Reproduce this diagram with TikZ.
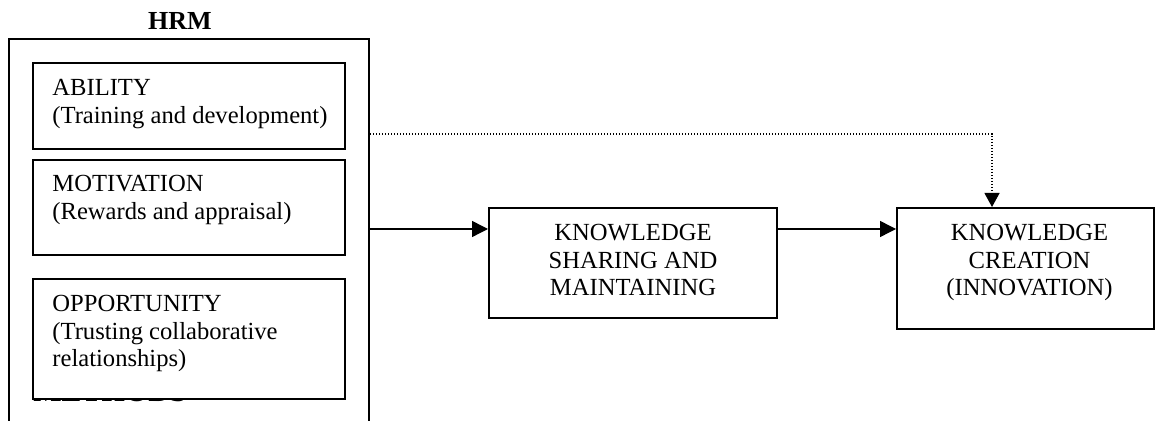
\documentclass[tikz,border=0pt]{standalone}
\usepackage{fontspec}
\setmainfont{Liberation Serif}
\usetikzlibrary{positioning,arrows.meta}

\begin{document}
\begin{tikzpicture}[
    x=0.5pt, y=-0.5pt,
    box/.style={rectangle, draw, line width=1pt, fill=white, anchor=north west, inner sep=0pt},
    boxtext/.style={inner sep=0pt, font=\fontsize{12.3}{13.8}\selectfont},
    arrow/.style={-{Triangle[length=8pt,width=8pt]}, line width=0.7pt},
    dotarrow/.style={-{Triangle[length=7pt,width=7.5pt]}, line width=0.6pt, dash pattern=on 0.6pt off 0.9pt}
]
    \clip (0,0) rectangle (1155,421);

    % HRM frame, title and the heading hidden behind the last box
    \node[box, fill=none, minimum width=180pt, minimum height=205pt] (hrm) at (8,38) {};
    \node[font=\fontsize{13}{15}\selectfont\bfseries, anchor=base] (hrmtitle) at (180,30) {HRM};
    \node[font=\fontsize{15}{17}\selectfont\bfseries, anchor=base west, inner sep=0pt] (methods) at (33,402) {METHODS};

    % the three HRM practice boxes
    \node[box, minimum width=156pt, minimum height=43pt] (ability) at (32,62) {};
    \node[box, minimum width=156pt, minimum height=47.5pt] (motivation) at (32,159) {};
    \node[box, minimum width=156pt, minimum height=60pt] (opportunity) at (32,278) {};

    \node[boxtext, align=left, anchor=north west] (abilitytxt) at ([xshift=10pt,yshift=-8.5pt]ability.north west)
        {ABILITY\\(Training and development)};
    \node[boxtext, align=left, anchor=north west] (motivationtxt) at ([xshift=10pt,yshift=-8pt]motivation.north west)
        {MOTIVATION\\(Rewards and appraisal)};
    \node[boxtext, align=left, anchor=north west] (opportunitytxt) at ([xshift=10pt,yshift=-8.5pt]opportunity.north west)
        {OPPORTUNITY\\(Trusting collaborative\\relationships)};

    % knowledge boxes
    \node[box, minimum width=144pt, minimum height=55pt] (ks) at (488,207) {};
    \node[box, minimum width=128.5pt, minimum height=60.5pt] (kc) at (896,207) {};

    \node[boxtext, align=center, anchor=north] (kstxt) at ([yshift=-8.5pt]ks.north)
        {KNOWLEDGE\\SHARING AND\\MAINTAINING};
    \node[boxtext, align=center, anchor=north] (kctxt) at ([xshift=2pt,yshift=-8.5pt]kc.north)
        {KNOWLEDGE\\CREATION\\(INNOVATION)};

    % connectors
    \coordinate (flowrow) at (0,229);
    \coordinate (dotturn) at (992,134);

    \draw[arrow] (hrm.east |- flowrow) -- (ks.west |- flowrow);
    \draw[arrow] (ks.east |- flowrow) -- (kc.west |- flowrow);
    \draw[dotarrow] (hrm.east |- dotturn) -- (dotturn) -- (dotturn |- kc.north);
\end{tikzpicture}
\end{document}
